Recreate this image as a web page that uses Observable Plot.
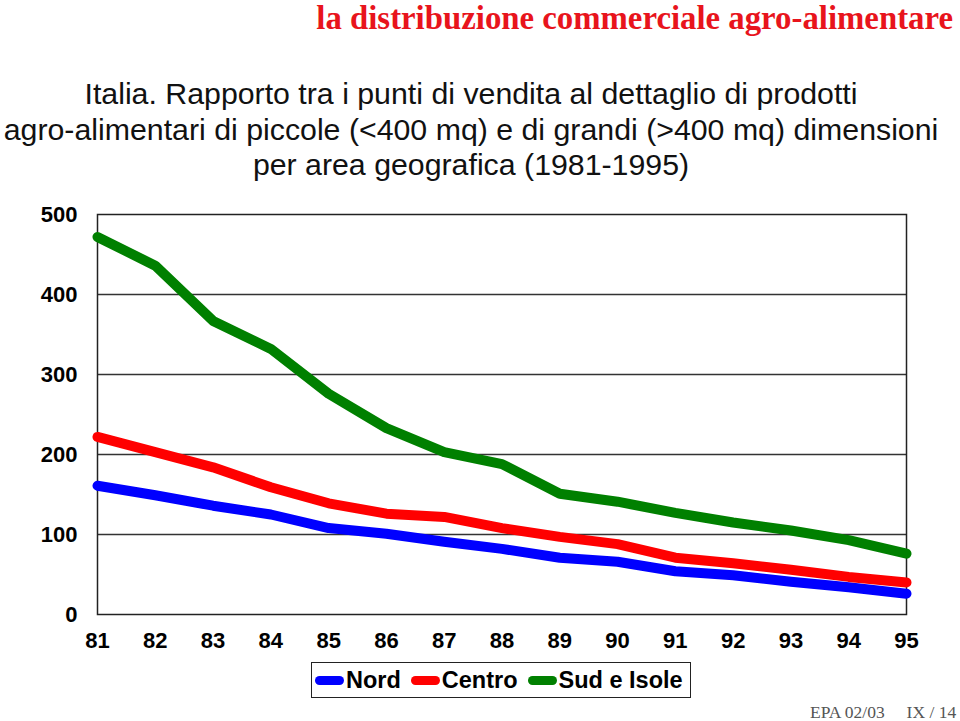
<!DOCTYPE html>
<html><head><meta charset="utf-8">
<script src="https://cdn.jsdelivr.net/npm/d3@7"></script>
<script src="https://cdn.jsdelivr.net/npm/@observablehq/plot@0.6"></script>
<style>
body{margin:0;width:960px;height:721px;position:relative;background:#fff;overflow:hidden;font-family:Arial,"Liberation Sans",sans-serif;}
#title{position:absolute;right:7px;top:1px;line-height:34px;font-family:"Times New Roman","Liberation Serif",serif;font-weight:bold;color:#e8141c;font-size:32.8px;white-space:nowrap;}
#sub{position:absolute;left:0;width:942px;top:76px;text-align:center;font-size:30.3px;line-height:35.5px;color:#111;white-space:nowrap;}
#chart{position:absolute;left:0;top:200px;}
#legend{position:absolute;left:311px;top:662px;width:380px;height:36px;border:1.5px solid #222;box-sizing:border-box;display:flex;align-items:center;font-weight:bold;font-size:23.5px;color:#000;}
.sw{display:inline-block;width:29px;height:9px;border-radius:5px;margin:0 2px 0 3px;}
.it{display:flex;align-items:center;margin-right:7px;}
#footer{position:absolute;top:702px;left:810px;font-family:"Times New Roman","Liberation Serif",serif;color:#555;font-size:17.5px;white-space:pre;}
</style></head>
<body>
<div id="title">la distribuzione commerciale agro-alimentare</div>
<div id="sub">Italia. Rapporto tra i punti di vendita al dettaglio di prodotti<br>agro-alimentari di piccole (&lt;400 mq) e di grandi (&gt;400 mq) dimensioni<br>per area geografica (1981-1995)</div>
<div id="chart"></div>
<div id="legend"></div>
<div id="footer">EPA 02/03     IX / 14</div>
<script>
const years = ["81","82","83","84","85","86","87","88","89","90","91","92","93","94","95"];
const nord   = [161,149,136,125,108,101,91,82,71,66,54,49,41,34,26];
const centro = [222,203,184,159,139,126,122,108,97,88,71,64,56,47,40];
const sud    = [472,436,367,332,276,233,203,188,151,141,127,115,105,93,76];
const seriesNames = ["Nord","Centro","Sud e Isole"];
const seriesColors = ["#0000ff","#ff0000","#008000"];
const yTicks = [0,100,200,300,400,500];

const vals = [nord, centro, sud];
const data = [];
seriesNames.forEach((s,i)=>years.forEach((y,j)=>data.push({series:s, year:y, value:vals[i][j]})));

const chart = Plot.plot({
  width: 960, height: 462,
  marginLeft: 97, marginRight: 54, marginTop: 14, marginBottom: 48,
  style:{fontFamily:"Arial, 'Liberation Sans', sans-serif", fontSize:"22px", fontWeight:"bold", color:"#000", background:"transparent", overflow:"visible"},
  x:{type:"point", domain:years, padding:0, round:false, label:null},
  y:{domain:[0,500], label:null},
  color:{domain:seriesNames, range:seriesColors},
  marks:[
    Plot.ruleY(yTicks.slice(1,5), {stroke:"#333", strokeWidth:1.5}),
    Plot.frame({stroke:"#222", strokeWidth:1.5}),
    Plot.line(data, {x:"year", y:"value", z:"series", stroke:"series", strokeWidth:10, strokeLinecap:"round", strokeLinejoin:"round"}),
    Plot.axisX({tickSize:0, tickPadding:18, fontSize:22, fontWeight:"bold"}),
    Plot.axisY({ticks:yTicks, tickSize:0, tickPadding:20, fontSize:22, fontWeight:"bold"})
  ]
});
document.getElementById("chart").appendChild(chart);

const leg = document.getElementById("legend");
seriesNames.forEach((s,i)=>{
  const d = document.createElement("span"); d.className="it";
  const sw = document.createElement("span"); sw.className="sw"; sw.style.background=seriesColors[i];
  d.appendChild(sw); d.appendChild(document.createTextNode(s));
  leg.appendChild(d);
});
</script>
</body></html>
